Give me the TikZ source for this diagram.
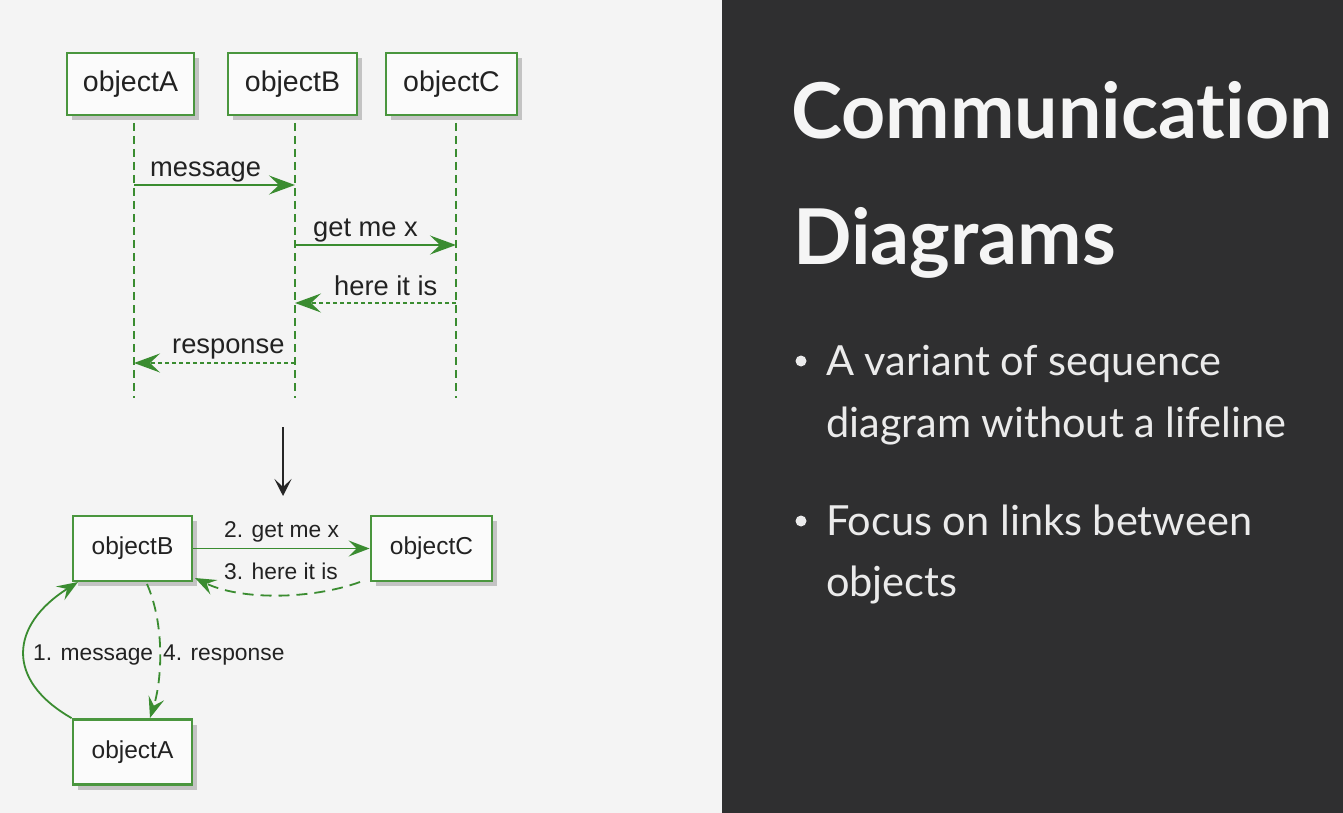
\documentclass[tikz,border=0pt]{standalone}
\usepackage{fontspec}
\setmainfont{Liberation Sans}
\newfontfamily\slidefont[Ligatures=NoCommon]{Lato}
\newfontfamily\slidebold[Ligatures=NoCommon]{Lato Bold}
\usetikzlibrary{arrows.meta,shadows}

\definecolor{panelbg}{HTML}{F4F4F4}
\definecolor{slidebg}{HTML}{2F2F30}
\definecolor{umlgreen}{RGB}{58,140,48}
\definecolor{boxgreen}{RGB}{74,150,62}
\definecolor{boxfill}{HTML}{FBFBFB}
\definecolor{inktext}{HTML}{222222}

\tikzset{
  objbox/.style={draw=boxgreen, line width=2.8pt, fill=boxfill,
    minimum height=62pt, inner sep=0pt, text=inktext, font=\fontsize{28.5}{30}\selectfont,
    drop shadow={shadow xshift=5pt, shadow yshift=-5pt, fill=black, opacity=0.2}},
  smallbox/.style={objbox, minimum height=65pt, font=\fontsize{24.5}{26}\selectfont},
  lifeline/.style={draw=umlgreen, line width=1.7pt, dash pattern=on 8pt off 5pt},
  umltip/.style={-{Stealth[length=26pt,width=19pt,inset=10pt]}},
  linktip/.style={-{Stealth[length=21pt,width=16pt,inset=8pt]}},
  callmsg/.style={draw=umlgreen, line width=1.8pt, umltip},
  replymsg/.style={draw=umlgreen, line width=1.8pt, umltip, dash pattern=on 4pt off 3pt},
  linkcall/.style={draw=umlgreen, line width=1.8pt, linktip},
  linkreply/.style={draw=umlgreen, line width=1.8pt, linktip, dash pattern=on 11pt off 7pt},
  msglabel/.style={anchor=base west, inner sep=0pt, text=inktext, font=\fontsize{27.3}{29}\selectfont},
  linklabel/.style={anchor=base west, inner sep=0pt, text=inktext, font=\fontsize{22.8}{24}\selectfont},
  bulletline/.style={anchor=base west, inner sep=0pt, text=white!92!black, font=\slidefont\fontsize{41.5}{44}\selectfont},
  bulletdot/.style={fill=white!92!black},
}

\begin{document}
\begin{tikzpicture}[x=1pt, y=-1pt]
  % slide halves
  \fill[panelbg] (0,0) rectangle (722,813);
  \fill[slidebg] (722,0) rectangle (1343,813);
  \useasboundingbox (0,0) rectangle (1343,813);

  % ---- sequence diagram ----
  \node[objbox, minimum width=127pt] (sA) at (130.5,84) {objectA};
  \node[objbox, minimum width=129pt] (sB) at (292.5,84) {objectB};
  \node[objbox, minimum width=131pt] (sC) at (451.5,84) {objectC};

  \coordinate (lA0) at (134,123); \coordinate (lA1) at (134,398);
  \coordinate (lB0) at (295,123); \coordinate (lB1) at (295,398);
  \coordinate (lC0) at (456,123); \coordinate (lC1) at (456,398);
  \draw[lifeline] (lA0) -- (lA1);
  \draw[lifeline] (lB0) -- (lB1);
  \draw[lifeline] (lC0) -- (lC1);

  \coordinate (m1a) at (134,185); \coordinate (m1b) at (295,185);
  \coordinate (m2b) at (295,245); \coordinate (m2c) at (456,245);
  \coordinate (m3c) at (456,303); \coordinate (m3b) at (295,303);
  \coordinate (m4b) at (295,363); \coordinate (m4a) at (134,363);

  \draw[callmsg] (m1a) -- (m1b);
  \draw[callmsg] (m2b) -- (m2c);
  \draw[replymsg] (m3c) -- (m3b);
  \draw[replymsg] (m4b) -- (m4a);

  \node[msglabel] (t1) at (150,177) {message};
  \node[msglabel] (t2) at (313,236) {get me x};
  \node[msglabel] (t3) at (334,295) {here it is};
  \node[msglabel] (t4) at (172,353) {response};

  % ---- transformation arrow ----
  \coordinate (tr0) at (283,427);
  \coordinate (tr1) at (283,496);
  \draw[line width=2pt, black!85, -{Stealth[length=17pt,width=17pt,inset=8pt]}] (tr0) -- (tr1);

  % ---- communication diagram ----
  \node[smallbox, minimum width=119pt] (cB) at (132.5,548.5) {objectB};
  \node[smallbox, minimum width=121pt] (cC) at (431.5,548.5) {objectC};
  \node[smallbox, minimum width=119pt] (cA) at (132.5,752) {objectA};

  \draw[linkcall] (cB.east) -- (cC.west);
  \coordinate (r3s) at (360,582);
  \coordinate (r3e) at (195,578);
  \draw[linkreply] (r3s) .. controls (310,600) and (240,600) .. (r3e);

  \coordinate (m1s) at (cA.north west);
  \coordinate (m1e) at (78,582);
  \draw[linkcall] (m1s) .. controls (5,680) and (10,625) .. (m1e);

  \coordinate (r4s) at (147,584);
  \coordinate (r4e) at (150,718);
  \draw[linkreply] (r4s) .. controls (165,625) and (162,680) .. (r4e);

  \node[linklabel] (u2) at (224,537) {2. get me x};
  \node[linklabel] (u3) at (224,579) {3. here it is};
  \node[linklabel] (u1) at (33,660) {1. message};
  \node[linklabel] (u4) at (163,660) {4. response};

  % ---- slide text ----
  \node[anchor=base west, inner sep=0pt, text=white!96!black,
        font=\slidebold\fontsize{77}{80}\selectfont] (title1) at (791,139) {Communication};
  \node[anchor=base west, inner sep=0pt, text=white!96!black,
        font=\slidebold\fontsize{77}{80}\selectfont] (title2) at (793,264) {Diagrams};

  \fill[bulletdot] (801,361) circle (5.5pt);
  \fill[bulletdot] (801,521) circle (5.5pt);
  \node[bulletline] (b1a) at (826,375) {A variant of sequence};
  \node[bulletline] (b1b) at (826,437) {diagram without a lifeline};
  \node[bulletline] (b2a) at (826,535) {Focus on links between};
  \node[bulletline] (b2b) at (826,596) {objects};
\end{tikzpicture}
\end{document}
